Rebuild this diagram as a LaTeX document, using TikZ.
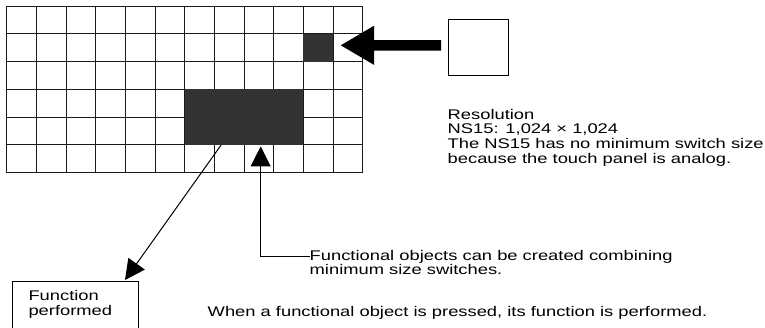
\documentclass[tikz,border=0pt]{standalone}
\usepackage{fontspec}
\setmainfont{Liberation Sans}[FakeStretch=1.31]
\usetikzlibrary{arrows.meta}
\begin{document}
\begin{tikzpicture}[x=1pt,y=-1pt,
  txt/.style={anchor=base west, inner sep=0pt, font=\fontsize{14}{15}\selectfont},
  gridline/.style={line width=1pt, draw=black!90},
  darkcell/.style={fill=black!80, draw=none, inner sep=0pt},
  boxnode/.style={draw=black, line width=1pt, inner sep=0pt, fill=white},
  thinarrow/.style={line width=1pt, -{Triangle[length=20pt,width=20pt]}},
  bigarrow/.style={line width=10.5pt, -{Triangle[length=34pt,width=36.7pt]}}]
\clip (0,0) rectangle (765,327);
\fill[white] (0,0) rectangle (765,327);
% grid
\foreach \i in {0,...,12} \draw[gridline] ({6.7+29.67*\i},6) -- ({6.7+29.67*\i},172.7);
\foreach \j in {0,...,6} \draw[gridline] (6.7,{6+27.78*\j}) -- (362.7,{6+27.78*\j});
% dark switches
\node[darkcell, minimum width=118.7pt, minimum height=55.6pt] (big) at (244.05,117.1) {};
\node[darkcell, minimum width=29.6pt, minimum height=27.8pt] (small) at (318.2,47.7) {};
% small box and big arrow
\node[boxnode, minimum width=60pt, minimum height=55.7pt] (sbox) at (478.3,47.15) {};
\draw[bigarrow] ([xshift=-6.6pt,yshift=1.85pt]sbox.west) -- ([xshift=7pt,yshift=2.4pt]small.east);
% resolution text
\node[txt] (r1) at (447.5,119) {Resolution};
\node[txt] (r2) at (447.5,133.8) {NS15: 1,024 × 1,024};
\node[txt] (r3) at (447.5,148.6) {The NS15 has no minimum switch size};
\node[txt] (r4) at (447.5,163.4) {because the touch panel is analog.};
% functional objects text
\node[txt] (fo1) at (309.5,260) {Functional objects can be created combining};
\node[txt] (fo2) at (309.5,274.5) {minimum size switches.};
\draw[thinarrow] (fo1.west) -| ([xshift=16.65pt,yshift=-1.3pt]big.south);
% function performed box
\node[boxnode, minimum width=125.6pt, minimum height=60pt] (fbox) at (75.5,311) {};
\node[txt] (fp1) at (28.3,300) {Function};
\node[txt] (fp2) at (28.3,315.5) {performed};
\draw[thinarrow] ([xshift=-23pt]big.south) -- ([xshift=49.5pt,yshift=0.5pt]fbox.north);
% bottom sentence
\node[txt] (wh) at (207.5,316) {When a functional object is pressed, its function is performed.};
\end{tikzpicture}
\end{document}
